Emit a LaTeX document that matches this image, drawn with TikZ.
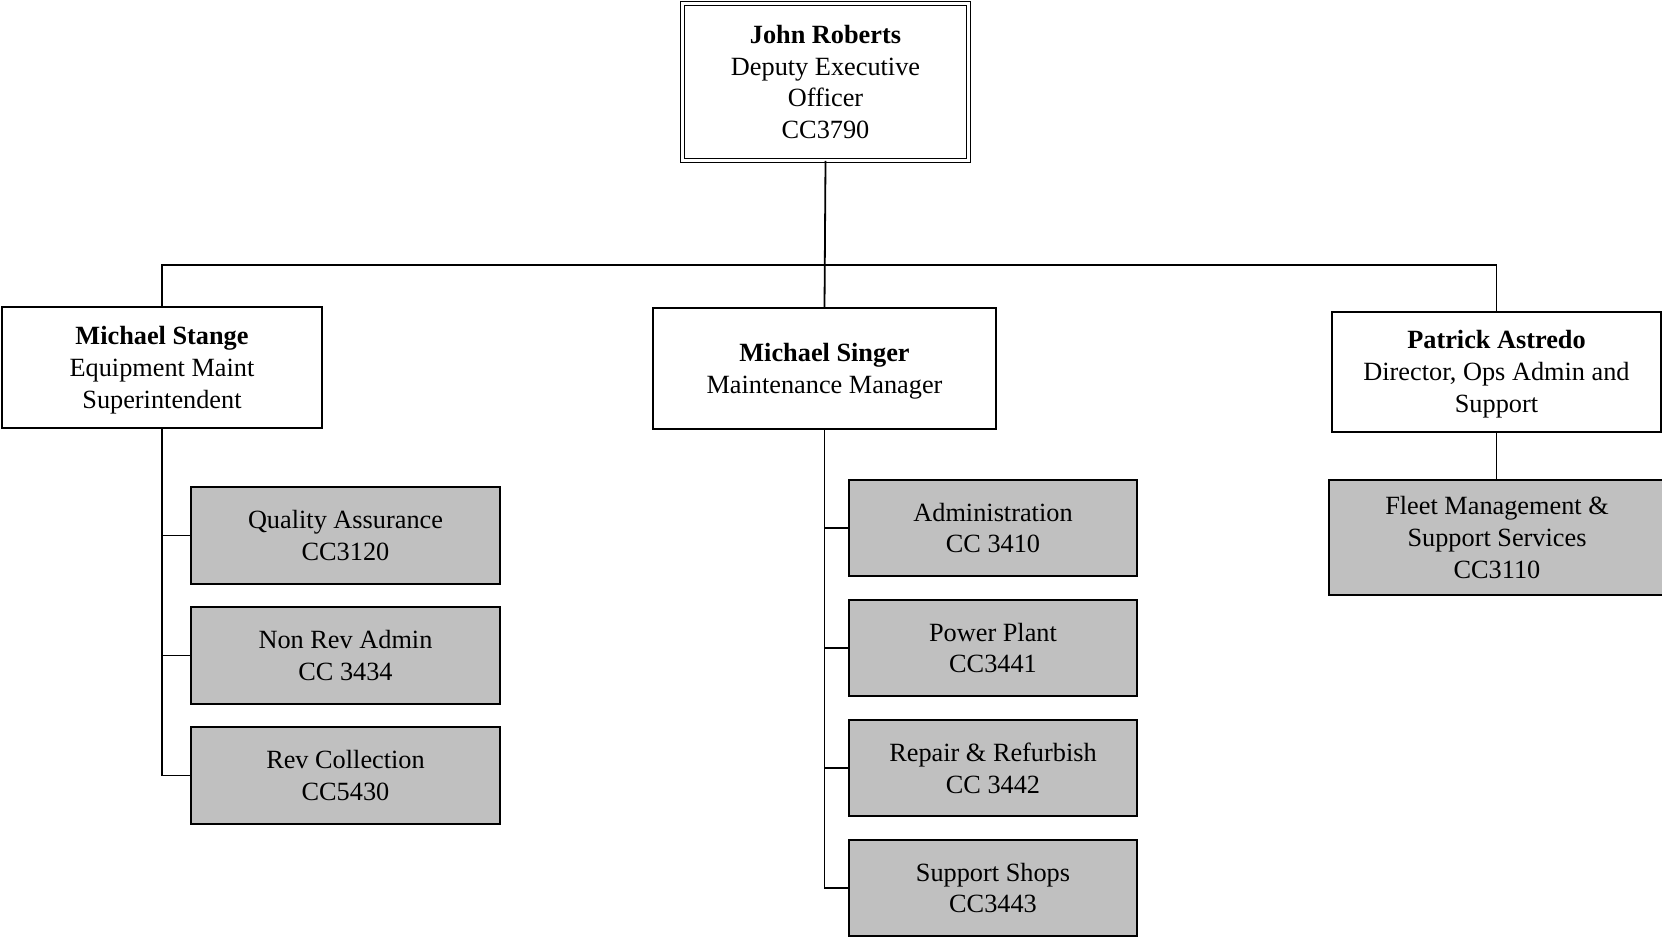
\documentclass[tikz,border=0pt]{standalone}
\usepackage{fontspec}
\setmainfont{Liberation Serif}
\definecolor{unitgray}{HTML}{C0C0C0}
\newcommand\pushdn{\rule{0pt}{23pt}}
\tikzset{
  basebox/.style={draw=black, line width=1.5pt, align=center, inner sep=0pt,
    font=\fontsize{26.3}{31.8}\selectfont},
  personbox/.style={basebox, fill=white},
  unitbox/.style={basebox, fill=unitgray},
  topbox/.style={basebox, fill=white, double=white, double distance=3pt, line width=1.2pt},
  link/.style={line width=1.8pt, draw=black}
}
\begin{document}
\begin{tikzpicture}[x=1pt,y=-1pt]
\useasboundingbox (0,0) rectangle (1662,938);
\coordinate (busL) at (162,265);
\coordinate (busR) at (1496.5,265);
\node[topbox, minimum width=285.6pt, minimum height=156.6pt] (jr) at (825.5,82)
  {\textbf{John Roberts}\\Deputy Executive\\Officer\\CC3790};
\node[personbox, minimum width=320pt, minimum height=121pt] (stange) at (162,367.5)
  {\pushdn\textbf{Michael Stange}\\Equipment Maint\\Superintendent};
\node[personbox, minimum width=343pt, minimum height=121pt] (singer) at (824.5,368.5)
  {\pushdn\textbf{Michael Singer}\\Maintenance Manager};
\node[personbox, minimum width=329pt, minimum height=120pt] (astredo) at (1496.5,372)
  {\pushdn\textbf{Patrick Astredo}\\Director, Ops Admin and\\Support};
% left units
\node[unitbox, minimum width=309pt, minimum height=97pt] (qa) at (345.5,535.5)
  {Quality Assurance\\CC3120};
\node[unitbox, minimum width=309pt, minimum height=97pt] (nonrev) at (345.5,655.5)
  {Non Rev Admin\\CC 3434};
\node[unitbox, minimum width=309pt, minimum height=97pt] (rev) at (345.5,775.5)
  {Rev Collection\\CC5430};
% middle units
\node[unitbox, minimum width=288pt, minimum height=96pt] (admin) at (993,528)
  {Administration\\CC 3410};
\node[unitbox, minimum width=288pt, minimum height=96pt] (power) at (993,648)
  {Power Plant\\CC3441};
\node[unitbox, minimum width=288pt, minimum height=96pt] (repair) at (993,768)
  {Repair \& Refurbish\\CC 3442};
\node[unitbox, minimum width=288pt, minimum height=96pt] (shops) at (993,888)
  {Support Shops\\CC3443};
% right unit
\node[unitbox, minimum width=336pt, minimum height=115pt] (fleet) at (1497,537.5)
  {Fleet Management \&\\Support Services\\CC3110};
% connectors
\draw[link] (jr.south) -- (singer.north);
\draw[link] (stange.north) -- (busL) -- (busR) -- (astredo.north);
\draw[link] (stange.south) |- (qa.west);
\draw[link] (stange.south) |- (nonrev.west);
\draw[link] (stange.south) |- (rev.west);
\draw[link] (singer.south) |- (admin.west);
\draw[link] (singer.south) |- (power.west);
\draw[link] (singer.south) |- (repair.west);
\draw[link] (singer.south) |- (shops.west);
\draw[link] (astredo.south) -- (astredo.south |- fleet.north);
\end{tikzpicture}
\end{document}
